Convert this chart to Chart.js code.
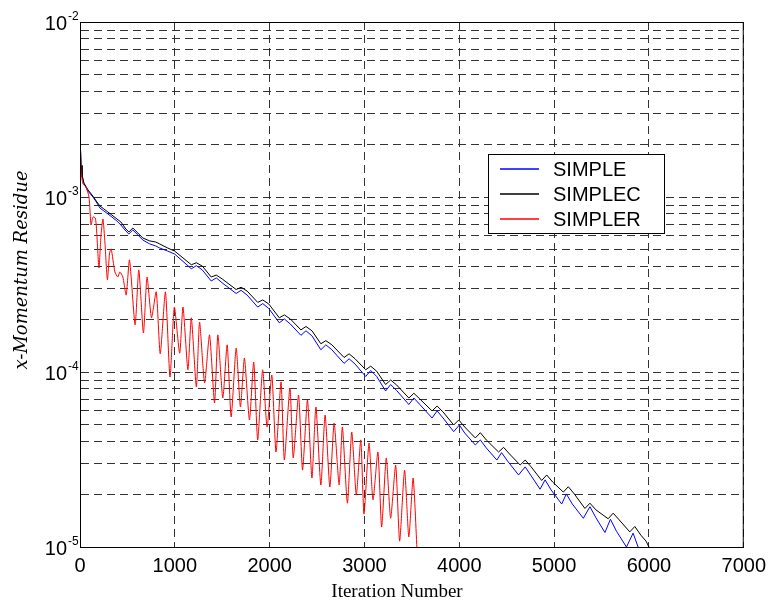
<!DOCTYPE html>
<html lang="en">
<head>
  <meta charset="UTF-8" />
  <title>x-Momentum Residue</title>
  <script src="https://cdn.jsdelivr.net/npm/chart.js"></script>
  <style>
    body {
      margin: 0;
      background: #fff;
    }
    canvas {
      display: block;
    }
  </style>
</head>
<body>
  <canvas id="residueChart" width="773" height="600"></canvas>

  <script>
    // iteration / residue pairs
    const simplerIter = [
      0, 3, 11, 32, 63, 95, 116, 137, 161, 173,
      200, 221, 242, 263, 289, 312, 329, 368, 399, 420,
      452, 487, 522, 581, 620, 669, 707, 754, 804, 846,
      901, 949, 995, 1051, 1086, 1138, 1174, 1227, 1261, 1314,
      1366, 1419, 1454, 1506, 1552, 1594, 1647, 1692, 1734, 1787,
      1832, 1874, 1926, 1973, 2023, 2067, 2120, 2155, 2214, 2249,
      2305, 2347, 2399, 2446, 2488, 2540, 2585, 2635, 2680, 2733,
      2767, 2820, 2866, 2914, 2961, 2995, 3048, 3090, 3142, 3181,
      3230, 3276, 3329, 3371, 3423, 3468, 3513, 3555
    ];
    const simplerRes = [
      6.07e-3, 2.42e-3, 1.39e-3, 1.19e-3, 1.14e-3, 1.00e-3, 6.92e-4, 7.69e-4, 7.59e-4, 6.74e-4,
      3.93e-4, 5.99e-4, 7.49e-4, 5.46e-4, 3.36e-4, 4.79e-4, 5.05e-4, 3.73e-4, 3.49e-4, 3.73e-4,
      3.49e-4, 2.75e-4, 4.37e-4, 1.86e-4, 3.83e-4, 1.67e-4, 3.49e-4, 2.04e-4, 2.87e-4, 1.27e-4,
      2.87e-4, 9.36e-5, 2.35e-4, 1.28e-4, 2.35e-4, 1.03e-4, 2.04e-4, 8.21e-5, 1.93e-4, 8.65e-5,
      1.63e-4, 6.65e-5, 1.63e-4, 7.10e-5, 1.43e-4, 5.53e-5, 1.37e-4, 6.31e-5, 1.20e-4, 5.32e-5,
      1.14e-4, 4.09e-5, 1.03e-4, 4.85e-5, 9.61e-5, 3.49e-5, 8.77e-5, 3.14e-5, 8.10e-5, 3.23e-5,
      7.39e-5, 2.75e-5, 6.92e-5, 2.48e-5, 6.31e-5, 2.26e-5, 5.68e-5, 2.20e-5, 5.11e-5, 2.26e-5,
      4.85e-5, 1.78e-5, 4.54e-5, 1.98e-5, 4.09e-5, 1.54e-5, 3.93e-5, 1.86e-5, 3.49e-5, 1.30e-5,
      3.23e-5, 1.46e-5, 2.94e-5, 1.08e-5, 2.75e-5, 1.14e-5, 2.48e-5, 9.4e-6
    ];

    const simplecIter = [
      0, 11, 21, 42, 84, 137, 179, 210, 252, 294,
      336, 389, 431, 484, 515, 557, 610, 662, 736, 799,
      841, 925, 998,
      1174, 1227, 1290,  1384, 1437, 1500,  1647, 1699, 1763,
      1874, 1927, 1990,  2102, 2155, 2218,  2330, 2383, 2446,
      2540, 2593, 2656,  2785, 2838, 2901,  3013, 3066, 3129,
      3223, 3276, 3339,  3468, 3521, 3584,  3713, 3766, 3829,
      3941, 3994, 4057,  4169, 4222, 4285,  4414, 4467, 4530,
      4642, 4695, 4758,  4869, 4922, 4985,  5097, 5150, 5213,
      5325, 5378, 5441,  5570, 5623, 5686,  5798, 5851, 5914,
      5970, 6000
    ];
    const simplecRes = [
      2.32e-3, 1.52e-3, 1.34e-3, 1.20e-3, 1.10e-3, 1.01e-3, 9.36e-4, 8.88e-4, 8.54e-4, 8.21e-4,
      7.89e-4, 7.49e-4, 7.20e-4, 6.56e-4, 6.31e-4, 6.65e-4, 6.23e-4, 5.83e-4, 5.61e-4, 5.53e-4,
      5.39e-4, 5.11e-4, 4.91e-4,
      4.10e-4, 4.21e-4, 4.03e-4,  3.49e-4, 3.58e-4, 3.40e-4,  2.96e-4, 3.05e-4, 2.90e-4,
      2.50e-4, 2.58e-4, 2.45e-4,  2.04e-4, 2.12e-4, 2.01e-4,  1.74e-4, 1.82e-4, 1.72e-4,
      1.45e-4, 1.51e-4, 1.43e-4,  1.21e-4, 1.27e-4, 1.19e-4,  1.03e-4, 1.08e-4, 1.01e-4,
      8.48e-5, 9.00e-5, 8.43e-5,  7.10e-5, 7.56e-5, 7.01e-5,  5.99e-5, 6.39e-5, 5.91e-5,
      4.98e-5, 5.32e-5, 4.85e-5,  4.20e-5, 4.50e-5, 4.09e-5,  3.49e-5, 3.71e-5, 3.40e-5,
      2.94e-5, 3.14e-5, 2.87e-5,  2.40e-5, 2.58e-5, 2.35e-5,  2.06e-5, 2.21e-5, 2.01e-5,
      1.66e-5, 1.78e-5, 1.63e-5,  1.45e-5, 1.56e-5, 1.43e-5,  1.22e-5, 1.31e-5, 1.17e-5,
      1.08e-5, 1.00e-5
    ];

    const simpleIter = [
      0, 11, 21, 42, 84, 137, 179, 210, 252, 294,
      336, 389, 431, 484, 515, 557, 610, 662, 736, 799,
      841, 925, 998,
      1174, 1227, 1290,  1384, 1437, 1500,  1647, 1699, 1763,
      1874, 1927, 1990,  2102, 2155, 2218,  2330, 2383, 2446,
      2540, 2593, 2656,  2785, 2838, 2901,  3013, 3066, 3129,
      3223, 3276, 3339,  3468, 3521, 3584,  3713, 3766, 3829,
      3941, 4001, 4057,  4169, 4222, 4285,  4396, 4446, 4509,
      4625, 4695, 4758,  4852, 4905, 4968,  5080, 5129, 5192,
      5308, 5378, 5441,  5536, 5594, 5658,  5763, 5833, 5886,
      5907
    ];
    const simpleRes = [
      2.26e-3, 1.50e-3, 1.32e-3, 1.19e-3, 1.08e-3, 1.00e-3, 9.24e-4, 8.65e-4, 8.32e-4, 8.00e-4,
      7.69e-4, 7.29e-4, 6.92e-4, 6.39e-4, 6.15e-4, 6.48e-4, 6.07e-4, 5.68e-4, 5.39e-4, 5.25e-4,
      5.11e-4, 4.91e-4, 4.72e-4,
      3.89e-4, 4.05e-4, 3.83e-4,  3.31e-4, 3.45e-4, 3.23e-4,  2.81e-4, 2.93e-4, 2.75e-4,
      2.35e-4, 2.46e-4, 2.31e-4,  1.91e-4, 2.01e-4, 1.88e-4,  1.62e-4, 1.72e-4, 1.61e-4,
      1.34e-4, 1.43e-4, 1.34e-4,  1.12e-4, 1.19e-4, 1.11e-4,  9.43e-5, 1.02e-4, 9.43e-5,
      7.79e-5, 8.48e-5, 7.84e-5,  6.52e-5, 7.10e-5, 6.52e-5,  5.46e-5, 5.99e-5, 5.46e-5,
      4.56e-5, 4.98e-5, 4.48e-5,  3.83e-5, 4.09e-5, 3.68e-5,  3.14e-5, 3.46e-5, 3.10e-5,
      2.58e-5, 2.87e-5, 2.55e-5,  2.14e-5, 2.42e-5, 2.12e-5,  1.76e-5, 2.01e-5, 1.76e-5,
      1.46e-5, 1.70e-5, 1.47e-5,  1.21e-5, 1.44e-5, 1.23e-5,  1.00e-5, 1.20e-5, 1.00e-5,
      9.4e-6
    ];

    const seriesNames = ['SIMPLE', 'SIMPLEC', 'SIMPLER'];
    const seriesColors = ['#0000ff', '#000000', '#ff0000'];

    // y grid: every 1..9 x 10^n between 1e-5 and 1e-2
    const yGridValues = [
      1e-5, 2e-5, 3e-5, 4e-5, 5e-5, 6e-5, 7e-5, 8e-5, 9e-5,
      1e-4, 2e-4, 3e-4, 4e-4, 5e-4, 6e-4, 7e-4, 8e-4, 9e-4,
      1e-3, 2e-3, 3e-3, 4e-3, 5e-3, 6e-3, 7e-3, 8e-3, 9e-3,
      1e-2
    ];
    const yLabelExponents = [-5, -4, -3, -2];

    const toPoints = (xs, ys) => xs.map((x, i) => ({ x: x, y: ys[i] }));

    const sans = '"Liberation Sans", Arial, sans-serif';
    const serif = '"Liberation Serif", "Times New Roman", serif';
    const gridDash = [8, 5];

    const decorations = {
      id: 'decorations',
      afterDraw(chart) {
        const { ctx, chartArea: a, scales: { y } } = chart;
        ctx.save();
        ctx.setLineDash([]);

        // closed axes box
        ctx.strokeStyle = '#000';
        ctx.lineWidth = 1;
        ctx.strokeRect(a.left + 0.5, a.top + 0.5, a.right - a.left - 1, a.bottom - a.top);

        // y tick labels as 10 with a raised exponent
        ctx.fillStyle = '#000';
        ctx.textBaseline = 'alphabetic';
        yLabelExponents.forEach(e => {
          const py = y.getPixelForValue(Math.pow(10, e));
          ctx.font = '20px ' + sans;
          ctx.textAlign = 'right';
          ctx.fillText('10', a.left - 13, py + 7.5);
          ctx.font = '12px ' + sans;
          ctx.textAlign = 'left';
          ctx.fillText(String(e), a.left - 12, py - 2);
        });

        // axis titles
        ctx.font = '19px ' + serif;
        ctx.textAlign = 'center';
        ctx.fillText('Iteration Number', 397, 597);
        ctx.save();
        ctx.translate(27, 270);
        ctx.rotate(-Math.PI / 2);
        ctx.font = 'italic 18px "DejaVu Serif", serif';
        ctx.fillText('x-Momentum Residue', 0, 0);
        ctx.restore();

        // legend box inside the axes
        const box = { x: a.left + 408, y: a.top + 132, w: 176, h: 79 };
        ctx.fillStyle = '#fff';
        ctx.fillRect(box.x, box.y, box.w, box.h);
        ctx.strokeStyle = '#000';
        ctx.lineWidth = 1;
        ctx.strokeRect(box.x + 0.5, box.y + 0.5, box.w, box.h);
        ctx.font = '20px ' + sans;
        ctx.textAlign = 'left';
        ctx.textBaseline = 'middle';
        seriesNames.forEach((name, i) => {
          const ry = box.y + 15 + i * 25;
          ctx.strokeStyle = seriesColors[i];
          ctx.lineWidth = 1.6;
          ctx.beginPath();
          ctx.moveTo(box.x + 12, ry);
          ctx.lineTo(box.x + 51, ry);
          ctx.stroke();
          ctx.fillStyle = '#000';
          ctx.fillText(name, box.x + 65, ry + 1);
        });
        ctx.restore();
      }
    };

    const ctx = document.getElementById('residueChart').getContext('2d');
    const chart = new Chart(ctx, {
      type: 'line',
      data: {
        datasets: [
          {
            label: seriesNames[0],
            data: toPoints(simpleIter, simpleRes),
            borderColor: seriesColors[0],
            borderWidth: 1,
            pointRadius: 0,
            order: 3
          },
          {
            label: seriesNames[1],
            data: toPoints(simplecIter, simplecRes),
            borderColor: seriesColors[1],
            borderWidth: 1,
            pointRadius: 0,
            order: 2
          },
          {
            label: seriesNames[2],
            data: toPoints(simplerIter, simplerRes),
            borderColor: seriesColors[2],
            borderWidth: 1,
            pointRadius: 0,
            tension: 0.2,
            order: 1
          }
        ]
      },
      options: {
        responsive: false,
        animation: false,
        layout: {
          padding: { left: 0, top: 22, right: 27, bottom: 0 }
        },
        plugins: {
          legend: { display: false },
          tooltip: { enabled: false }
        },
        scales: {
          x: {
            type: 'linear',
            min: 0,
            max: 7000,
            ticks: {
              stepSize: 1000,
              color: '#000',
              font: { family: sans, size: 20 },
              padding: 7,
              maxRotation: 0,
              callback: v => String(v)
            },
            grid: { color: '#333', drawTicks: false },
            border: { color: '#000', dash: gridDash },
            afterFit: scale => { scale.height = 53; }
          },
          y: {
            type: 'logarithmic',
            min: 1e-5,
            max: 1e-2,
            ticks: { display: false },
            afterBuildTicks: scale => {
              scale.ticks = yGridValues.map(v => ({ value: v }));
            },
            grid: { color: '#333', drawTicks: false },
            border: { color: '#000', dash: gridDash },
            afterFit: scale => { scale.width = 80; }
          }
        }
      },
      plugins: [decorations]
    });
  </script>
</body>
</html>
